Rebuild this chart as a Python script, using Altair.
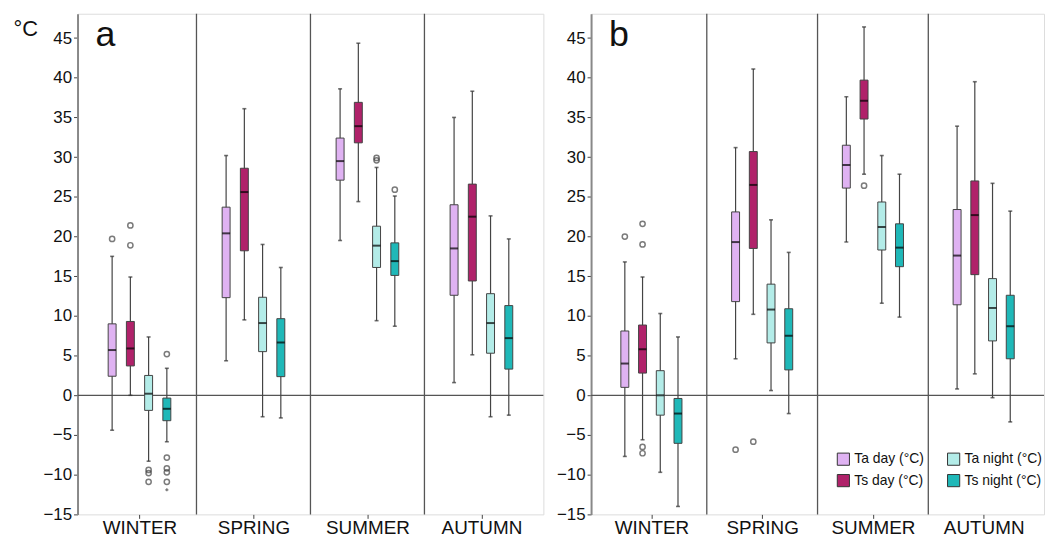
import altair as alt
import pandas as pd

SEASONS = ["WINTER", "SPRING", "SUMMER", "AUTUMN"]
SERIES = ["Ta day (°C)", "Ts day (°C)", "Ta night (°C)", "Ts night (°C)"]
COLORS = ["#DFB2F2", "#B0226A", "#B3ECE8", "#1FB8B8"]
Y_TICKS = [-15, -10, -5, 0, 5, 10, 15, 20, 25, 30, 35, 40, 45]

# rows = seasons, columns = series (Ta day, Ts day, Ta night, Ts night)
A_LOW = [[-4.4, 0.0, -8.3, -5.85], [4.35, 9.5, -2.7, -2.85], [19.5, 24.4, 9.4, 8.7], [1.6, 5.1, -2.7, -2.5]]
A_Q1 = [[2.4, 3.7, -1.9, -3.2], [12.3, 18.2, 5.5, 2.35], [27.1, 31.8, 16.1, 15.1], [12.6, 14.4, 5.3, 3.3]]
A_MED = [[5.7, 5.9, 0.2, -1.7], [20.4, 25.6, 9.1, 6.65], [29.5, 33.9, 18.85, 16.9], [18.5, 22.5, 9.1, 7.2]]
A_Q3 = [[9.0, 9.3, 2.5, -0.35], [23.7, 28.6, 12.35, 9.65], [32.4, 36.9, 21.3, 19.2], [24.0, 26.6, 12.8, 11.3]]
A_HIGH = [[17.5, 14.9, 7.35, 3.4], [30.2, 36.1, 19.0, 16.1], [38.6, 44.35, 28.7, 25.1], [35.0, 38.3, 22.6, 19.7]]
A_OUT = [(0, 0, 19.7), (0, 1, 21.4), (0, 1, 18.9), (0, 2, -9.4), (0, 2, -9.8), (0, 2, -10.9),
         (0, 3, 5.2), (0, 3, -7.85), (0, 3, -9.2), (0, 3, -9.7), (0, 3, -10.9),
         (2, 2, 29.6), (2, 2, 29.9), (2, 3, 25.9)]
A_EXT = [(0, 3, -11.9)]

B_LOW = [[-7.7, -5.6, -9.7, -14.0], [4.6, 10.2, 0.6, -2.3], [19.3, 27.85, 11.6, 9.85], [0.8, 2.7, -0.3, -3.35]]
B_Q1 = [[1.0, 2.8, -2.5, -6.05], [11.8, 18.5, 6.6, 3.2], [26.1, 34.8, 18.3, 16.2], [11.4, 15.2, 6.85, 4.6]]
B_MED = [[4.0, 5.8, 0.0, -2.3], [19.3, 26.5, 10.8, 7.5], [29.0, 37.1, 21.2, 18.6], [17.6, 22.7, 11.0, 8.7]]
B_Q3 = [[8.1, 8.85, 3.1, -0.4], [23.1, 30.7, 14.0, 10.9], [31.5, 39.7, 24.35, 21.6], [23.4, 27.0, 14.7, 12.6]]
B_HIGH = [[16.8, 14.9, 10.3, 7.35], [31.2, 41.1, 22.1, 18.0], [37.6, 46.4, 30.2, 27.85], [33.9, 39.5, 26.7, 23.2]]
B_OUT = [(0, 0, 20.0), (0, 1, 21.6), (0, 1, 19.0), (0, 1, -6.5), (0, 1, -7.3),
         (1, 0, -6.85), (1, 1, -5.85), (2, 1, 26.4)]
B_EXT = []

FONT = "Liberation Sans"
XPOS = "datum.si + 0.5 + (datum.ki - 1.5) * 0.16"


def box_frame(low, q1, med, q3, high):
    rows = []
    for si in range(len(SEASONS)):
        for ki in range(len(SERIES)):
            rows.append(dict(si=si, ki=ki, series=SERIES[ki], low=low[si][ki], q1=q1[si][ki],
                             med=med[si][ki], q3=q3[si][ki], high=high[si][ki]))
    return pd.DataFrame(rows)


def pts_frame(pts):
    return pd.DataFrame([dict(si=s, ki=k, v=v) for s, k, v in pts], columns=["si", "ki", "v"])


def panel(df, out, ext, letter, width, first):
    xs = alt.Scale(domain=[0, len(SEASONS)], nice=False, zero=False)
    ys = alt.Scale(domain=[-15, 48.06], nice=False, zero=False)
    label_expr = "[" + ",".join("'" + s + "'" for s in SEASONS) + "][floor(datum.value)]"
    xaxis = alt.Axis(values=[i + 0.5 for i in range(len(SEASONS))], labelExpr=label_expr,
                     title=None, grid=False, tickSize=4, tickColor="#444", labelFontSize=19,
                     labelFont=FONT, labelColor="#111", labelPadding=0, domain=False)
    if first:
        yaxis = alt.Axis(values=Y_TICKS, title="°C", titleAngle=0, titleX=-65, titleY=22,
                         titleAlign="left", titleBaseline="alphabetic", titleFontSize=22,
                         titleFont=FONT, titleFontWeight="normal", titleColor="#111",
                         grid=False, tickSize=4, tickColor="#444", labelFontSize=17,
                         labelFont=FONT, labelColor="#111", labelPadding=2,
                         domainColor="#888", domainWidth=2)
    else:
        yaxis = alt.Axis(values=Y_TICKS, title=None, grid=False, tickSize=4, tickColor="#444",
                         labelFontSize=17, labelFont=FONT, labelColor="#111", labelPadding=2,
                         domainColor="#888", domainWidth=2)

    def X(field):
        return alt.X(field, type="quantitative", scale=xs, axis=xaxis)

    def Y(field):
        return alt.Y(field, type="quantitative", scale=ys, axis=yaxis)

    base = alt.Chart(df).transform_calculate(xp=XPOS)
    div = alt.Chart(pd.DataFrame({"d": list(range(1, len(SEASONS)))})).mark_rule(
        color="#555", strokeWidth=1.3).encode(x=X("d"))
    zero = alt.Chart(pd.DataFrame({"z": [0]})).mark_rule(color="#555", strokeWidth=1.3).encode(y=Y("z"))
    whisk = base.mark_rule(color="#444", strokeWidth=1.2).encode(x=X("xp"), y=Y("low"), y2="high")
    caps = base.transform_fold(["low", "high"], as_=["k", "cv"]).mark_tick(
        orient="horizontal", size=4, thickness=1.6, color="#333").encode(x=X("xp"), y=Y("cv"))
    if first:
        legend = None
    else:
        legend = alt.Legend(title=None, orient="none", legendX=247, legendY=441, columns=2,
                            columnPadding=20, rowPadding=4, symbolType="square", symbolSize=150,
                            symbolStrokeColor="#333", symbolStrokeWidth=1, symbolOpacity=1,
                            labelFontSize=14, labelFont=FONT, labelColor="#111", labelOffset=4,
                            padding=0)
    color = alt.Color("series:N", scale=alt.Scale(domain=SERIES, range=COLORS), legend=legend)
    boxes = base.mark_bar(size=8, stroke="#444", strokeWidth=1, opacity=1).encode(
        x=X("xp"), y=Y("q1"), y2="q3", color=color)
    med = base.mark_tick(orient="horizontal", size=8, thickness=2, color="#000").encode(
        x=X("xp"), y=Y("med"))
    layers = [div, zero, whisk, caps, boxes, med]
    if len(out):
        layers.append(alt.Chart(out).transform_calculate(xp=XPOS).mark_point(
            shape="circle", filled=False, size=28, color="#444", strokeWidth=1.5).encode(
            x=X("xp"), y=Y("v")))
    if len(ext):
        layers.append(alt.Chart(ext).transform_calculate(xp=XPOS).mark_point(
            shape="cross", filled=True, size=10, color="#333").encode(x=X("xp"), y=Y("v")))
    lab = alt.Chart(pd.DataFrame({"t": [letter]})).mark_text(
        fontSize=36, font=FONT, align="left", baseline="top", color="#111").encode(
        text="t:N", x=alt.value(18), y=alt.value(4))
    layers.append(lab)
    return alt.layer(*layers).properties(width=width, height=504)


pa = panel(box_frame(A_LOW, A_Q1, A_MED, A_Q3, A_HIGH), pts_frame(A_OUT), pts_frame(A_EXT), "a", 469, True)
pb = panel(box_frame(B_LOW, B_Q1, B_MED, B_Q3, B_HIGH), pts_frame(B_OUT), pts_frame(B_EXT), "b", 456, False)

chart = alt.hconcat(pa, pb, spacing=10).resolve_scale(color="independent").properties(
    padding={"left": 4, "top": 2, "right": 0, "bottom": 0}
).configure_view(stroke="#666", strokeWidth=1.5).configure(background="white")

chart.save("out.html", embed_options={"renderer": "svg", "actions": False})
